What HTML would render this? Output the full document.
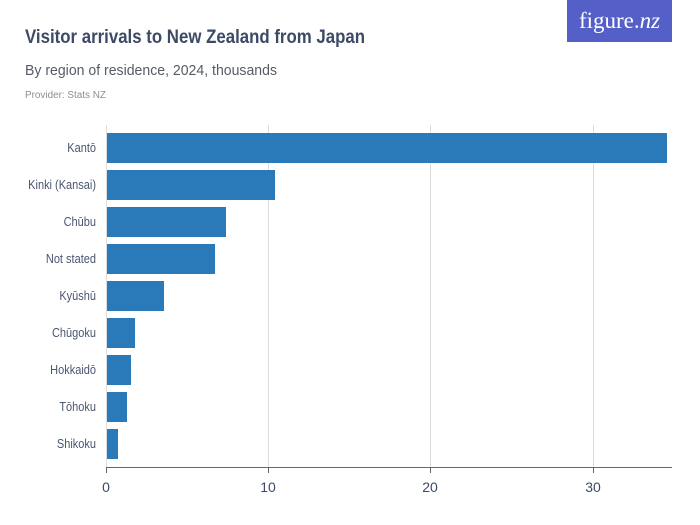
<!DOCTYPE html>
<html><head><meta charset="utf-8"><style>
body{margin:0;background:#fff;}
svg{display:block;font-family:"Liberation Sans",sans-serif;}
</style></head><body>
<svg width="700" height="525" xmlns="http://www.w3.org/2000/svg">
<rect x="567" y="0" width="105" height="42" fill="#5460c8"/>
<text x="619.5" y="28" text-anchor="middle" font-family="Liberation Serif,serif" font-size="23" fill="#fff">figure.<tspan font-style="italic">nz</tspan></text>
<text x="25" y="43" font-size="19" font-weight="bold" fill="#3d4a66" textLength="340" lengthAdjust="spacingAndGlyphs">Visitor arrivals to New Zealand from Japan</text>
<text x="25" y="75" font-size="15" fill="#555c66" textLength="252" lengthAdjust="spacingAndGlyphs">By region of residence, 2024, thousands</text>
<text x="25" y="98" font-size="10" fill="#8a8f96" textLength="81" lengthAdjust="spacingAndGlyphs">Provider: Stats NZ</text>
<g stroke="#dddddd" stroke-width="1">
<line x1="268.5" y1="125" x2="268.5" y2="467"/>
<line x1="430.5" y1="125" x2="430.5" y2="467"/>
<line x1="593.5" y1="125" x2="593.5" y2="467"/>
</g>
<g fill="#2a7ab9">
<rect x="106" y="133" width="561" height="30"/>
<rect x="106" y="170" width="169" height="30"/>
<rect x="106" y="207" width="120" height="30"/>
<rect x="106" y="244" width="109" height="30"/>
<rect x="106" y="281" width="58" height="30"/>
<rect x="106" y="318" width="29" height="30"/>
<rect x="106" y="355" width="25" height="30"/>
<rect x="106" y="392" width="21" height="30"/>
<rect x="106" y="429" width="12" height="30"/>
</g>
<line x1="106.5" y1="125" x2="106.5" y2="467" stroke="#dddddd"/>
<line x1="106" y1="467.5" x2="672" y2="467.5" stroke="#666"/>
<g stroke="#666"><line x1="106.5" y1="467" x2="106.5" y2="473"/><line x1="268.5" y1="467" x2="268.5" y2="473"/><line x1="430.5" y1="467" x2="430.5" y2="473"/><line x1="593.5" y1="467" x2="593.5" y2="473"/></g>
<g font-size="14" fill="#3d4a66" text-anchor="middle">
<text x="106" y="492">0</text><text x="268" y="492">10</text><text x="430" y="492">20</text><text x="593" y="492">30</text>
</g>
<g font-size="12.5" fill="#4a5570" text-anchor="end" transform="translate(96,0) scale(0.88,1)">
<text x="0" y="152">Kantō</text>
<text x="0" y="189">Kinki (Kansai)</text>
<text x="0" y="226">Chūbu</text>
<text x="0" y="263">Not stated</text>
<text x="0" y="300">Kyūshū</text>
<text x="0" y="337">Chūgoku</text>
<text x="0" y="374">Hokkaidō</text>
<text x="0" y="411">Tōhoku</text>
<text x="0" y="448">Shikoku</text>
</g>
</svg>
</body></html>
